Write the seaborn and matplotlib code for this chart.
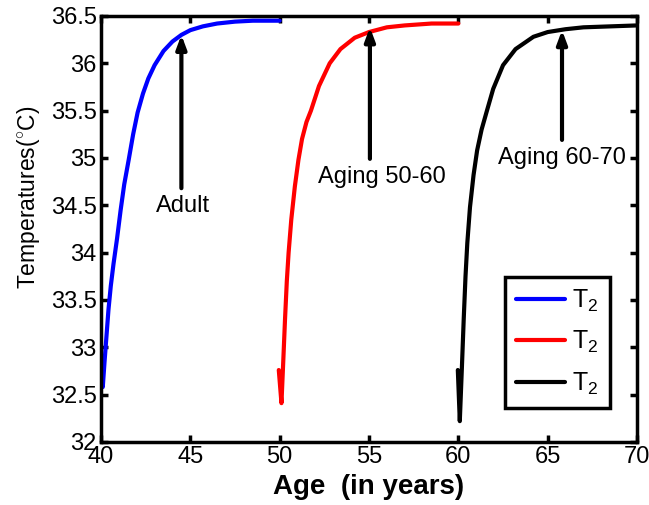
import matplotlib
matplotlib.use("Agg")
import matplotlib.pyplot as plt
import seaborn as sns
import pandas as pd

# Data
adult_age = [40.05, 40.10, 40.20, 40.30, 40.42, 40.55, 40.70, 40.90, 41.10, 41.30, 41.55, 41.8, 42.05, 42.35,
             42.65, 43.0, 43.5, 44.0, 44.5, 45.0, 45.7, 46.5, 47.5, 48.5, 50.0]
adult_temp = [32.78, 32.58, 32.85, 33.1, 33.4, 33.65, 33.88, 34.15, 34.45, 34.72, 34.98, 35.25, 35.48, 35.68,
              35.84, 35.98, 36.13, 36.23, 36.3, 36.35, 36.39, 36.42, 36.44, 36.45, 36.45]

aging5060_age = [49.95, 50.10, 50.20, 50.30, 50.40, 50.50, 50.65, 50.85, 51.05, 51.25, 51.5, 51.75, 52.2,
                 52.8, 53.4, 54.2, 55.0, 56.0, 57.0, 58.5, 60.0]
aging5060_temp = [32.76, 32.41, 32.85, 33.3, 33.7, 34.0, 34.35, 34.7, 34.98, 35.2, 35.38, 35.5, 35.76,
                  36.0, 36.15, 36.27, 36.33, 36.38, 36.4, 36.42, 36.42]

aging6070_age = [59.97, 60.08, 60.20, 60.30, 60.40, 60.50, 60.65, 60.85, 61.05, 61.3, 61.6, 61.95, 62.5,
                 63.2, 64.2, 65.0, 66.0, 67.0, 68.5, 70.0]
aging6070_temp = [32.76, 32.22, 32.8, 33.3, 33.75, 34.1, 34.48, 34.82, 35.08, 35.3, 35.5, 35.73, 35.98,
                  36.15, 36.28, 36.33, 36.36, 36.38, 36.39, 36.4]

series_labels = ["T$_2$", "T$_2$", "T$_2$"]
series_colors = ["#0000ff", "#ff0000", "#000000"]

annot_text = ["Adult", "Aging 50-60", "Aging 60-70"]
annot_tip_x = [44.5, 55.05, 65.8]
annot_tip_y = [36.3, 36.38, 36.35]
annot_text_x = [44.6, 55.7, 65.8]
annot_text_y = [34.49, 34.8, 35.0]

sns.set_style("ticks")
plt.rcParams["font.family"] = ["Liberation Sans", "DejaVu Sans"]
plt.rcParams["mathtext.fontset"] = "custom"
plt.rcParams["mathtext.rm"] = "Liberation Sans"
plt.rcParams["mathtext.it"] = "Liberation Sans"
for k in ["text.color", "axes.labelcolor", "xtick.color", "ytick.color", "axes.edgecolor"]:
    plt.rcParams[k] = "black"

fig = plt.figure(figsize=(6.49, 5.05), dpi=100)
ax = fig.add_axes([0.1556, 0.1248, 0.826, 0.8436])

datasets = [(adult_age, adult_temp), (aging5060_age, aging5060_temp), (aging6070_age, aging6070_temp)]
for (xs, ys), lab, col in zip(datasets, series_labels, series_colors):
    df = pd.DataFrame({"age": xs, "temp": ys})
    sns.lineplot(data=df, x="age", y="temp", ax=ax, color=col, linewidth=3, label=lab, sort=False)

for t, tx, ty, lx, ly in zip(annot_text, annot_tip_x, annot_tip_y, annot_text_x, annot_text_y):
    ax.annotate("", xy=(tx, ty), xytext=(tx, ly),
                arrowprops=dict(arrowstyle="-|>,head_length=0.8,head_width=0.3", color="black", lw=3,
                                shrinkA=13, shrinkB=0))
    ax.text(lx, ly, t, ha="center", va="center", fontsize=17)

ax.set_xlim(40, 70)
ax.set_ylim(32, 36.5)
ax.set_xticks([40, 45, 50, 55, 60, 65, 70])
ax.set_yticks([32, 32.5, 33, 33.5, 34, 34.5, 35, 35.5, 36, 36.5])
ax.set_yticklabels(["32", "32.5", "33", "33.5", "34", "34.5", "35", "35.5", "36", "36.5"])
ax.tick_params(direction="in", length=5, width=2.5, labelsize=17, top=True, right=True, pad=3)
for s in ax.spines.values():
    s.set_linewidth(2.5)
ax.set_xlabel("Age  (in years)", fontsize=20, fontweight="bold", labelpad=4)
ax.set_ylabel("Temperatures($^{\\circ}$C)", fontsize=16.5)
ax.yaxis.set_label_coords(-0.11, 0.575)

leg = ax.legend(loc="lower right", bbox_to_anchor=(0.9496, 0.08), borderaxespad=0, fontsize=18,
                fancybox=False, handlelength=1.95, handletextpad=0.3, labelspacing=0.6, borderpad=0.45,
                framealpha=1)
leg.get_frame().set_edgecolor("black")
leg.get_frame().set_linewidth(2.5)

fig.savefig("out.png", dpi=100)
